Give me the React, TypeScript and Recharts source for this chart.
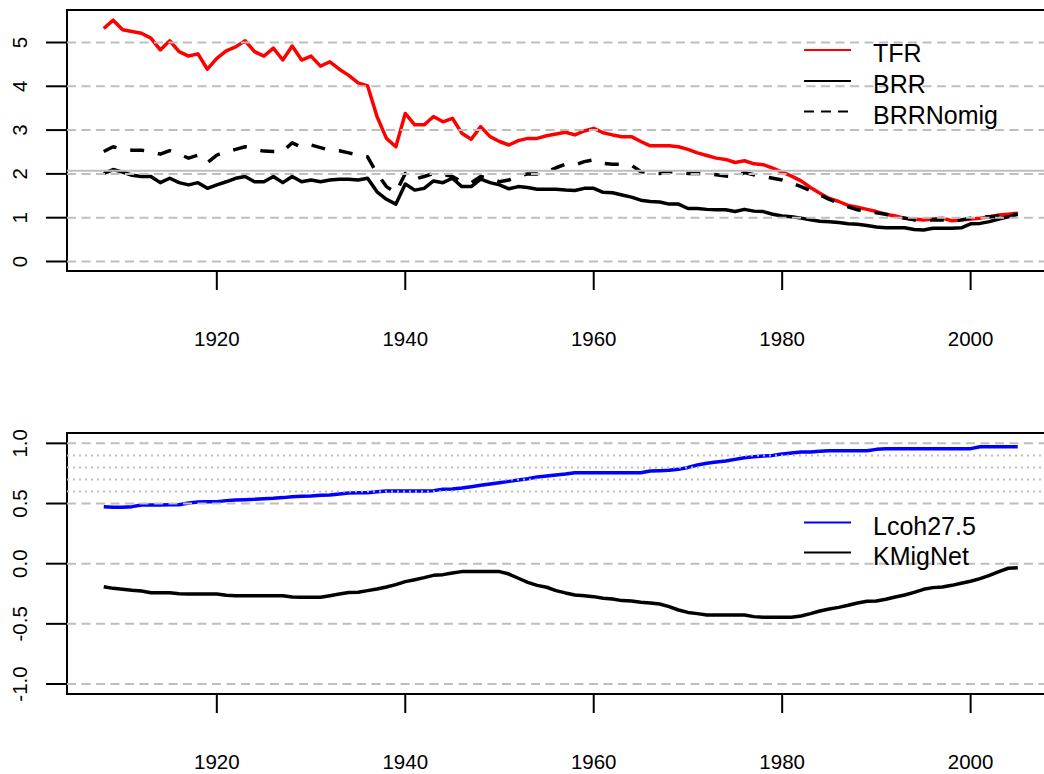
import React from "react";
import {
  LineChart,
  Line,
  XAxis,
  YAxis,
  ReferenceLine,
  ReferenceArea,
  Legend,
} from "recharts";

// years 1908..2005
const years = [
  1908, 1909, 1910, 1911, 1912, 1913, 1914, 1915, 1916, 1917,
  1918, 1919, 1920, 1921, 1922, 1923, 1924, 1925, 1926, 1927,
  1928, 1929, 1930, 1931, 1932, 1933, 1934, 1935, 1936, 1937,
  1938, 1939, 1940, 1941, 1942, 1943, 1944, 1945, 1946, 1947,
  1948, 1949, 1950, 1951, 1952, 1953, 1954, 1955, 1956, 1957,
  1958, 1959, 1960, 1961, 1962, 1963, 1964, 1965, 1966, 1967,
  1968, 1969, 1970, 1971, 1972, 1973, 1974, 1975, 1976, 1977,
  1978, 1979, 1980, 1981, 1982, 1983, 1984, 1985, 1986, 1987,
  1988, 1989, 1990, 1991, 1992, 1993, 1994, 1995, 1996, 1997,
  1998, 1999, 2000, 2001, 2002, 2003, 2004, 2005,
];

const tfr = [
  5.32, 5.51, 5.29, 5.25, 5.21, 5.10, 4.83, 5.04, 4.79, 4.69,
  4.74, 4.39, 4.64, 4.81, 4.90, 5.04, 4.79, 4.69, 4.87, 4.60,
  4.92, 4.60, 4.69, 4.46, 4.56, 4.39, 4.25, 4.08, 4.01, 3.31,
  2.81, 2.62, 3.38, 3.12, 3.12, 3.31, 3.19, 3.27, 2.93, 2.79,
  3.08, 2.85, 2.74, 2.66, 2.76, 2.81, 2.81, 2.87, 2.91, 2.95,
  2.89, 2.98, 3.04, 2.94, 2.89, 2.85, 2.85, 2.74, 2.64, 2.64,
  2.64, 2.62, 2.56, 2.48, 2.42, 2.36, 2.33, 2.26, 2.30, 2.23,
  2.21, 2.13, 2.04, 1.95, 1.84, 1.69, 1.56, 1.44, 1.37, 1.28,
  1.24, 1.19, 1.14, 1.08, 1.04, 0.99, 0.97, 0.95, 0.97, 0.99,
  0.93, 0.95, 0.97, 0.99, 1.02, 1.06, 1.08, 1.10,
];

const brr = [
  2.01, 2.10, 2.04, 1.97, 1.94, 1.94, 1.80, 1.90, 1.80, 1.75,
  1.80, 1.67, 1.75, 1.82, 1.90, 1.94, 1.82, 1.82, 1.94, 1.80,
  1.94, 1.82, 1.86, 1.82, 1.86, 1.88, 1.88, 1.86, 1.90, 1.59,
  1.42, 1.31, 1.77, 1.63, 1.67, 1.84, 1.80, 1.90, 1.71, 1.71,
  1.88, 1.80, 1.75, 1.66, 1.71, 1.69, 1.65, 1.65, 1.65, 1.63,
  1.62, 1.67, 1.67, 1.58, 1.57, 1.52, 1.47, 1.40, 1.37, 1.36,
  1.31, 1.31, 1.21, 1.21, 1.19, 1.18, 1.18, 1.14, 1.19, 1.15,
  1.14, 1.08, 1.04, 1.02, 0.99, 0.95, 0.92, 0.91, 0.89, 0.86,
  0.85, 0.82, 0.79, 0.77, 0.77, 0.77, 0.73, 0.72, 0.76, 0.76,
  0.76, 0.77, 0.86, 0.87, 0.91, 0.97, 1.02, 1.08,
];

const brrNomig = [
  2.51, 2.62, 2.56, 2.54, 2.54, 2.51, 2.45, 2.53, 2.45, 2.36,
  2.43, 2.26, 2.43, 2.51, 2.56, 2.62, 2.56, 2.52, 2.51, 2.51,
  2.71, 2.61, 2.66, 2.60, 2.54, 2.53, 2.48, 2.43, 2.39, 2.01,
  1.71, 1.57, 2.01, 1.88, 1.94, 2.01, 1.99, 1.94, 1.82, 1.80,
  1.94, 1.90, 1.82, 1.86, 1.95, 2.00, 2.00, 2.05, 2.14, 2.22,
  2.20, 2.28, 2.32, 2.24, 2.22, 2.22, 2.20, 2.05, 2.03, 2.01,
  2.05, 2.05, 2.01, 2.01, 2.00, 1.98, 1.95, 1.94, 2.03, 1.98,
  1.94, 1.90, 1.86, 1.79, 1.71, 1.62, 1.52, 1.42, 1.33, 1.25,
  1.18, 1.15, 1.11, 1.08, 1.02, 0.99, 0.95, 0.95, 0.95, 0.95,
  0.91, 0.95, 0.99, 1.02, 1.02, 1.04, 1.06, 1.08,
];

const lcoh = [
  0.474, 0.468, 0.468, 0.474, 0.488, 0.488, 0.488, 0.49, 0.49, 0.504,
  0.513, 0.515, 0.515, 0.524, 0.53, 0.532, 0.535, 0.54, 0.543, 0.549,
  0.557, 0.56, 0.563, 0.568, 0.571, 0.579, 0.587, 0.59, 0.59, 0.598,
  0.604, 0.604, 0.604, 0.604, 0.604, 0.607, 0.618, 0.62, 0.629, 0.64,
  0.651, 0.662, 0.673, 0.684, 0.695, 0.706, 0.72, 0.729, 0.737, 0.745,
  0.756, 0.756, 0.756, 0.756, 0.756, 0.756, 0.756, 0.756, 0.77, 0.773,
  0.776, 0.784, 0.80, 0.82, 0.834, 0.845, 0.853, 0.867, 0.881, 0.889,
  0.895, 0.90, 0.911, 0.92, 0.928, 0.928, 0.934, 0.939, 0.939, 0.939,
  0.939, 0.939, 0.95, 0.956, 0.956, 0.956, 0.956, 0.956, 0.956, 0.956,
  0.956, 0.956, 0.956, 0.972, 0.972, 0.972, 0.972, 0.972,
];

const kMigNet = [
  -0.191, -0.205, -0.213, -0.221, -0.227, -0.241, -0.241, -0.241, -0.249, -0.252,
  -0.252, -0.252, -0.252, -0.263, -0.266, -0.266, -0.266, -0.266, -0.266, -0.266,
  -0.277, -0.279, -0.279, -0.279, -0.266, -0.252, -0.24, -0.238, -0.224, -0.21,
  -0.194, -0.174, -0.149, -0.133, -0.116, -0.097, -0.091, -0.077, -0.066, -0.066,
  -0.066, -0.066, -0.066, -0.086, -0.121, -0.155, -0.18, -0.196, -0.224, -0.243,
  -0.26, -0.266, -0.274, -0.288, -0.293, -0.307, -0.31, -0.321, -0.327, -0.335,
  -0.357, -0.385, -0.405, -0.415, -0.426, -0.426, -0.426, -0.426, -0.426, -0.44,
  -0.446, -0.446, -0.446, -0.446, -0.435, -0.415, -0.393, -0.376, -0.363, -0.346,
  -0.327, -0.313, -0.31, -0.296, -0.277, -0.26, -0.238, -0.213, -0.199, -0.194,
  -0.18, -0.163, -0.146, -0.124, -0.097, -0.066, -0.038, -0.033,
];

const xTicks = [1920, 1940, 1960, 1980, 2000];
const topTicks = [0, 1, 2, 3, 4, 5];
const bottomTicks = [-1, -0.5, 0, 0.5, 1];
const topDashed = [0, 1, 2, 3, 4, 5];
const topSolid = [2.07];
const bottomDashed = [-1, -0.5, 0, 0.5, 1];
const bottomDotted = [0.6, 0.7, 0.8, 0.9];
const topNames = ["TFR", "BRR", "BRRNomig"];
const bottomNames = ["Lcoh27.5", "KMigNet"];

const topData = years.map((year, i) => ({
  year,
  tfr: tfr[i],
  brr: brr[i],
  brrNomig: brrNomig[i],
}));
const bottomData = years.map((year, i) => ({
  year,
  lcoh: lcoh[i],
  kMigNet: kMigNet[i],
}));

const FONT = "'Liberation Sans', Arial, Helvetica, sans-serif";
const W = 1060;
const H = 351;
const X_DOMAIN: [number, number] = [1904.1, 2008.7];
const TOP_DOMAIN: [number, number] = [-0.217, 5.742];
const BOTTOM_DOMAIN: [number, number] = [-1.083, 1.086];
const GRID = "#bebebe";

function XTick(props: any) {
  const { x, y, payload } = props;
  return (
    <text x={x} y={y + 56} textAnchor="middle" fontSize={20.5} fontFamily={FONT} fill="#000">
      {payload.value}
    </text>
  );
}

function YTick(props: any) {
  const { y, payload, fmt } = props;
  const cx = 19.5;
  return (
    <text
      x={cx}
      y={y}
      transform={`rotate(-90 ${cx} ${y})`}
      textAnchor="middle"
      dominantBaseline="central"
      fontSize={20.5}
      fontFamily={FONT}
      fill="#000"
    >
      {fmt(payload.value)}
    </text>
  );
}

type Entry = { name: string; color: string; dash?: string };

function LegendBox({ entries, rowY }: { entries: Entry[]; rowY: number[] }) {
  return (
    <svg width={250} height={110} style={{ display: "block" }}>
      {entries.map((e, i) => (
        <g key={e.name}>
          <line
            x1={14}
            x2={61}
            y1={rowY[i]}
            y2={rowY[i]}
            stroke={e.color}
            strokeWidth={2}
            strokeDasharray={e.dash}
          />
          <text x={83} y={rowY[i] + 12} fontSize={25} fontFamily={FONT} fill="#000">
            {e.name}
          </text>
        </g>
      ))}
    </svg>
  );
}

export default function App() {
  const topEntries: Entry[] = [
    { name: topNames[0], color: "#ff0000" },
    { name: topNames[1], color: "#000000" },
    { name: topNames[2], color: "#000000", dash: "10 7" },
  ];
  const bottomEntries: Entry[] = [
    { name: bottomNames[0], color: "#0000ff" },
    { name: bottomNames[1], color: "#000000" },
  ];

  return (
    <div
      style={{
        position: "absolute",
        left: 0,
        top: 0,
        width: 1044,
        height: 774,
        overflow: "hidden",
        background: "#fff",
      }}
    >
      <div style={{ position: "absolute", left: 0, top: 0 }}>
        <LineChart width={W} height={H} data={topData} margin={{ top: 10, right: 7.4, bottom: 0, left: 0 }}>
          <XAxis
            dataKey="year"
            type="number"
            domain={X_DOMAIN}
            ticks={xTicks}
            interval={0}
            allowDataOverflow
            height={80}
            axisLine={false}
            tickSize={19}
            tickMargin={0}
            tickLine={{ stroke: "#000", strokeWidth: 2 }}
            tick={XTick}
          />
          <YAxis
            type="number"
            domain={TOP_DOMAIN}
            ticks={topTicks}
            interval={0}
            allowDataOverflow
            width={67}
            axisLine={false}
            tickSize={21}
            tickMargin={0}
            tickLine={{ stroke: "#000", strokeWidth: 2 }}
            tick={(p: any) => <YTick {...p} fmt={(v: number) => String(v)} />}
          />
          <Line dataKey="tfr" name="TFR" stroke="#ff0000" strokeWidth={3.5} dot={false} isAnimationActive={false} strokeLinejoin="round" />
          <Line dataKey="brr" name="BRR" stroke="#000000" strokeWidth={3.5} dot={false} isAnimationActive={false} strokeLinejoin="round" />
          <Line dataKey="brrNomig" name="BRRNomig" stroke="#000000" strokeWidth={3.5} strokeDasharray="14 14" dot={false} isAnimationActive={false} strokeLinejoin="round" />
          {topDashed.map((v) => (
            <ReferenceLine key={`d${v}`} y={v} stroke={GRID} strokeWidth={2} strokeDasharray="9 5.5" />
          ))}
          {topSolid.map((v) => (
            <ReferenceLine key={`s${v}`} y={v} stroke={GRID} strokeWidth={2} />
          ))}
          <ReferenceArea
            x1={X_DOMAIN[0]}
            x2={X_DOMAIN[1]}
            y1={TOP_DOMAIN[0]}
            y2={TOP_DOMAIN[1]}
            fill="none"
            stroke="#000"
            strokeWidth={2}
            ifOverflow="visible"
          />
          <Legend
            layout="vertical"
            align="center"
            verticalAlign="middle"
            wrapperStyle={{ left: 790, top: 20, width: 250, height: 110 }}
            content={() => <LegendBox entries={topEntries} rowY={[30, 61, 91.5]} />}
          />
        </LineChart>
      </div>
      <div style={{ position: "absolute", left: 0, top: 423 }}>
        <LineChart width={W} height={H} data={bottomData} margin={{ top: 10, right: 7.4, bottom: 0, left: 0 }}>
          <XAxis
            dataKey="year"
            type="number"
            domain={X_DOMAIN}
            ticks={xTicks}
            interval={0}
            allowDataOverflow
            height={80}
            axisLine={false}
            tickSize={19}
            tickMargin={0}
            tickLine={{ stroke: "#000", strokeWidth: 2 }}
            tick={XTick}
          />
          <YAxis
            type="number"
            domain={BOTTOM_DOMAIN}
            ticks={bottomTicks}
            interval={0}
            allowDataOverflow
            width={67}
            axisLine={false}
            tickSize={21}
            tickMargin={0}
            tickLine={{ stroke: "#000", strokeWidth: 2 }}
            tick={(p: any) => <YTick {...p} fmt={(v: number) => v.toFixed(1)} />}
          />
          <Line dataKey="lcoh" name="Lcoh27.5" stroke="#0000ff" strokeWidth={3.5} dot={false} isAnimationActive={false} strokeLinejoin="round" />
          <Line dataKey="kMigNet" name="KMigNet" stroke="#000000" strokeWidth={3.5} dot={false} isAnimationActive={false} strokeLinejoin="round" />
          {bottomDashed.map((v) => (
            <ReferenceLine key={`d${v}`} y={v} stroke={GRID} strokeWidth={2} strokeDasharray="9 5.5" />
          ))}
          {bottomDotted.map((v) => (
            <ReferenceLine key={`p${v}`} y={v} stroke={GRID} strokeWidth={2} strokeDasharray="2 4" />
          ))}
          <ReferenceArea
            x1={X_DOMAIN[0]}
            x2={X_DOMAIN[1]}
            y1={BOTTOM_DOMAIN[0]}
            y2={BOTTOM_DOMAIN[1]}
            fill="none"
            stroke="#000"
            strokeWidth={2}
            ifOverflow="visible"
          />
          <Legend
            layout="vertical"
            align="center"
            verticalAlign="middle"
            wrapperStyle={{ left: 790, top: 70, width: 250, height: 110 }}
            content={() => <LegendBox entries={bottomEntries} rowY={[29.5, 59.5]} />}
          />
        </LineChart>
      </div>
    </div>
  );
}
